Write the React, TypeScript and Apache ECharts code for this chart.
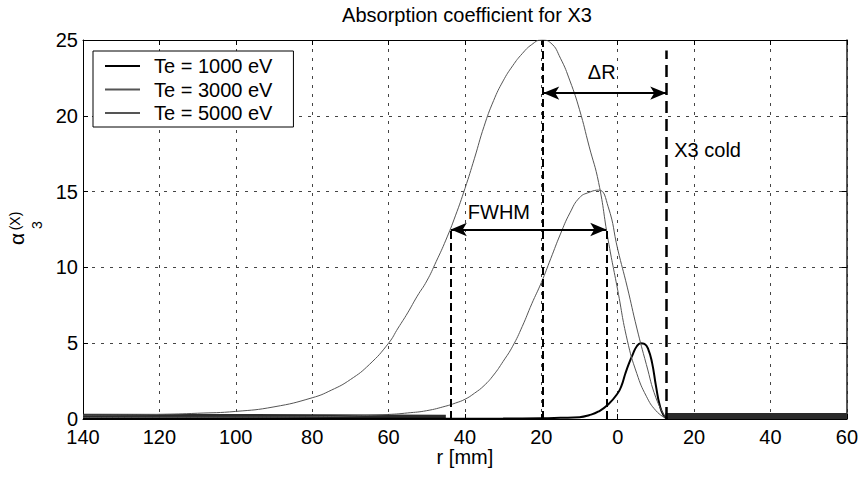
import React, { useEffect, useRef } from 'react';
import * as echarts from 'echarts';

// ---- data ----
const xMin = -140;
const xMax = 60;
const xInterval = 20;
const yMin = 0;
const yMax = 25;
const yInterval = 5;

const seriesNames = ['Te = 1000 eV', 'Te = 3000 eV', 'Te = 5000 eV'];

const r1000 = [-140, -60, -30, -20, -15, -10, -7.5, -5, -2.5, 0, 1, 2, 3, 4, 5, 6, 7, 8, 9, 10, 11, 12, 13];
const a1000 = [0.02, 0.02, 0.03, 0.05, 0.08, 0.12, 0.25, 0.5, 0.95, 1.7, 2.2, 3.0, 3.7, 4.3, 4.8, 5.0, 4.95, 4.6, 3.7, 2.2, 0.9, 0.25, 0.03];

const r3000 = [-140, -120, -100, -80, -70, -60, -55, -50, -45, -42.5, -40, -37.5, -35, -32.5, -30, -27.5, -25, -22.5, -20, -17.5, -15, -12.5, -10, -7.5, -5, -2.5, 0, 2.5, 5, 7.5, 10, 12.5];
const a3000 = [0.1, 0.11, 0.12, 0.15, 0.2, 0.3, 0.4, 0.55, 0.85, 1.05, 1.3, 1.7, 2.2, 2.9, 3.8, 4.8, 6.1, 7.6, 9.0, 10.6, 12.2, 13.6, 14.6, 14.95, 15.1, 14.0, 11.2, 8.7, 6.0, 3.6, 1.4, 0.1];

const r5000 = [-140, -130, -120, -110, -100, -90, -80, -75, -70, -65, -60, -57.5, -55, -52.5, -50, -47.5, -45, -42.5, -40, -37.5, -35, -32.5, -30, -27.5, -25, -22.5, -20, -17.5, -15, -12.5, -10, -7.5, -5, -2.5, 0, 2.5, 5, 7.5, 10, 12.5];
const a5000 = [0.25, 0.27, 0.3, 0.38, 0.5, 0.8, 1.4, 1.9, 2.6, 3.6, 5.0, 6.0, 7.0, 8.1, 9.1, 10.4, 11.8, 13.4, 15.2, 17.2, 19.3, 21.0, 22.3, 23.3, 24.1, 24.7, 25.0, 24.8, 23.8, 22.3, 20.4, 18.0, 15.6, 11.8, 8.5, 5.2, 3.0, 1.5, 0.55, 0.05];

// noise floor (dense noisy samples drawn as a thick band in the original)
const noiseLeftR = [-140, -100, -60, -45];
const noiseLeftA = [0.18, 0.16, 0.14, 0.12];
const noiseRightR = [12.5, 30, 60];
const noiseRightA = [0.2, 0.2, 0.2];

// annotations
const peakR = -19.5;
const peakA = 25;
const fwhmLeftR = -43.7;
const fwhmRightR = -3;
const fwhmA = 12.5;
const coldR = 12.7;
const coldTopA = 24.3;
const deltaRA = 21.5;
const annotLabels = ['FWHM', '\u0394R', 'X3 cold'];
const annotR = [-31.1, -4.2, 14.8];
const annotA = [13.65, 22.9, 17.75];

const pairs = (xs: number[], ys: number[]) => xs.map((x, i) => [x, ys[i]]);

const FONT = '"Liberation Sans", Arial, Helvetica, sans-serif';

export default function App() {
  const ref = useRef<HTMLDivElement>(null);

  useEffect(() => {
    if (!ref.current) return;
    const chart = echarts.init(ref.current, undefined, { renderer: 'svg' });

    const thickDash = { color: '#000', width: 2, type: [8, 4] as number[] };
    const coldDash = { color: '#000', width: 2.5, type: [12, 6] as number[] };
    const arrowStyle = { color: '#000', width: 2, type: 'solid' as const };
    const labelBase = {
      fontFamily: FONT,
      fontSize: 20,
      color: '#000',
      opacity: 1,
      textBorderWidth: 0,
    };

    const option: any = {
      animation: false,
      backgroundColor: '#fff',
      textStyle: { fontFamily: FONT },
      grid: { left: 83, right: 12, top: 40, bottom: 61 },
      graphic: [
        {
          type: 'text',
          x: 467,
          y: 15,
          style: {
            text: 'Absorption coefficient for X3',
            fontFamily: FONT,
            fontSize: 20,
            fill: '#000',
            align: 'center',
            verticalAlign: 'middle',
          },
        },
        {
          type: 'text',
          x: 16,
          y: 239,
          rotation: Math.PI / 2,
          style: { text: '\u03b1', fontFamily: FONT, fontSize: 21, fill: '#000', align: 'center', verticalAlign: 'middle' },
        },
        {
          type: 'text',
          x: 37,
          y: 225,
          rotation: Math.PI / 2,
          style: { text: '3', fontFamily: FONT, fontSize: 14, fill: '#000', align: 'center', verticalAlign: 'middle' },
        },
        {
          type: 'text',
          x: 15,
          y: 221,
          rotation: Math.PI / 2,
          style: { text: '(X)', fontFamily: FONT, fontSize: 14, fill: '#000', align: 'center', verticalAlign: 'middle' },
        },
      ],
      legend: {
        data: seriesNames.map((n) => ({ name: n, icon: 'rect' })),
        orient: 'vertical',
        left: 93,
        top: 51,
        backgroundColor: '#fff',
        borderColor: '#000',
        borderWidth: 1,
        borderRadius: 0,
        padding: [5, 21, 4, 12],
        itemWidth: 35,
        itemHeight: 2,
        itemGap: 3.5,
        textStyle: { fontFamily: FONT, fontSize: 20, color: '#000', padding: [0, 0, 0, 9], lineHeight: 20 },
      },
      xAxis: [
        {
          type: 'value',
          min: xMin,
          max: xMax,
          interval: xInterval,
          name: 'r [mm]',
          nameLocation: 'middle',
          nameGap: 30,
          nameMoveOverlap: false,
          nameTextStyle: { fontFamily: FONT, fontSize: 20, lineHeight: 16, color: '#000', verticalAlign: 'top' },
          axisLine: { show: true, onZero: false, lineStyle: { color: '#000', width: 1 } },
          axisTick: { show: true, inside: true, length: 5, lineStyle: { color: '#000' } },
          axisLabel: {
            fontFamily: FONT,
            fontSize: 20,
            lineHeight: 16,
            color: '#000',
            margin: 10,
            formatter: (v: number) => String(Math.abs(v)),
          },
          splitLine: { show: true, lineStyle: { color: '#444', width: 1, type: [3, 6] } },
        },
        {
          type: 'value',
          position: 'top',
          min: xMin,
          max: xMax,
          interval: xInterval,
          axisLine: { show: true, onZero: false, lineStyle: { color: '#000', width: 1 } },
          axisTick: { show: true, inside: true, length: 5, lineStyle: { color: '#000' } },
          axisLabel: { show: false },
          splitLine: { show: false },
        },
      ],
      yAxis: [
        {
          type: 'value',
          min: yMin,
          max: yMax,
          interval: yInterval,
          axisLine: { show: true, onZero: false, lineStyle: { color: '#000', width: 1 } },
          axisTick: { show: true, inside: true, length: 5, lineStyle: { color: '#000' } },
          axisLabel: { fontFamily: FONT, fontSize: 20, lineHeight: 14, color: '#000', margin: 5 },
          splitLine: { show: true, lineStyle: { color: '#444', width: 1, type: [3, 6] } },
        },
        {
          type: 'value',
          position: 'right',
          min: yMin,
          max: yMax,
          interval: yInterval,
          axisLine: { show: true, onZero: false, lineStyle: { color: '#222', width: 1.5 } },
          axisTick: { show: true, inside: true, length: 5, lineStyle: { color: '#000' } },
          axisLabel: { show: false },
          splitLine: { show: false },
        },
      ],
      series: [
        {
          name: 'noiseLeft',
          type: 'line',
          data: pairs(noiseLeftR, noiseLeftA),
          symbol: 'none',
          silent: true,
          lineStyle: { color: '#2a2a2a', width: 5 },
          z: 1,
        },
        {
          name: 'noiseRight',
          type: 'line',
          data: pairs(noiseRightR, noiseRightA),
          symbol: 'none',
          silent: true,
          lineStyle: { color: '#2a2a2a', width: 6 },
          z: 1,
        },
        {
          name: seriesNames[0],
          type: 'line',
          data: pairs(r1000, a1000),
          symbol: 'none',
          smooth: 0.5,
          lineStyle: { color: '#000', width: 2 },
          itemStyle: { color: '#000' },
          z: 3,
        },
        {
          name: seriesNames[1],
          type: 'line',
          data: pairs(r3000, a3000),
          symbol: 'none',
          smooth: 0.5,
          lineStyle: { color: '#555', width: 1 },
          itemStyle: { color: '#555' },
          z: 3,
        },
        {
          name: seriesNames[2],
          type: 'line',
          data: pairs(r5000, a5000),
          symbol: 'none',
          smooth: 0.5,
          lineStyle: { color: '#555', width: 1 },
          itemStyle: { color: '#555' },
          z: 3,
        },
        {
          name: 'annotations',
          type: 'scatter',
          symbolSize: 0,
          silent: true,
          z: 5,
          itemStyle: { color: '#000' },
          data: annotLabels.map((t, i) => ({
            name: t,
            value: [annotR[i], annotA[i]],
            label:
              i === 2
                ? { ...labelBase, position: 'right', distance: 0 }
                : { ...labelBase, position: 'inside' },
          })),
          label: {
            show: true,
            formatter: '{b}',
            ...labelBase,
          },
          markLine: {
            silent: true,
            symbol: 'none',
            label: { show: false },
            emphasis: { disabled: true },
            data: [
              [
                { coord: [peakR, 0], lineStyle: thickDash },
                { coord: [peakR, peakA], lineStyle: thickDash },
              ],
              [
                { coord: [fwhmLeftR, 0], lineStyle: thickDash },
                { coord: [fwhmLeftR, fwhmA], lineStyle: thickDash },
              ],
              [
                { coord: [fwhmRightR, 0], lineStyle: thickDash },
                { coord: [fwhmRightR, fwhmA], lineStyle: thickDash },
              ],
              [
                { coord: [coldR, 0], lineStyle: coldDash },
                { coord: [coldR, coldTopA], lineStyle: coldDash },
              ],
              [
                { coord: [fwhmLeftR, fwhmA], symbol: 'arrow', symbolSize: [10, 16], lineStyle: arrowStyle },
                { coord: [fwhmRightR, fwhmA], symbol: 'arrow', symbolSize: [10, 16], lineStyle: arrowStyle },
              ],
              [
                { coord: [peakR, deltaRA], symbol: 'arrow', symbolSize: [10, 16], lineStyle: arrowStyle },
                { coord: [coldR, deltaRA], symbol: 'arrow', symbolSize: [10, 16], lineStyle: arrowStyle },
              ],
            ],
          },
        },
      ],
    };

    chart.setOption(option);
    return () => chart.dispose();
  }, []);

  return (
    <div
      ref={ref}
      style={{ position: 'fixed', left: 0, top: 0, width: 861, height: 480, background: '#fff' }}
    />
  );
}
